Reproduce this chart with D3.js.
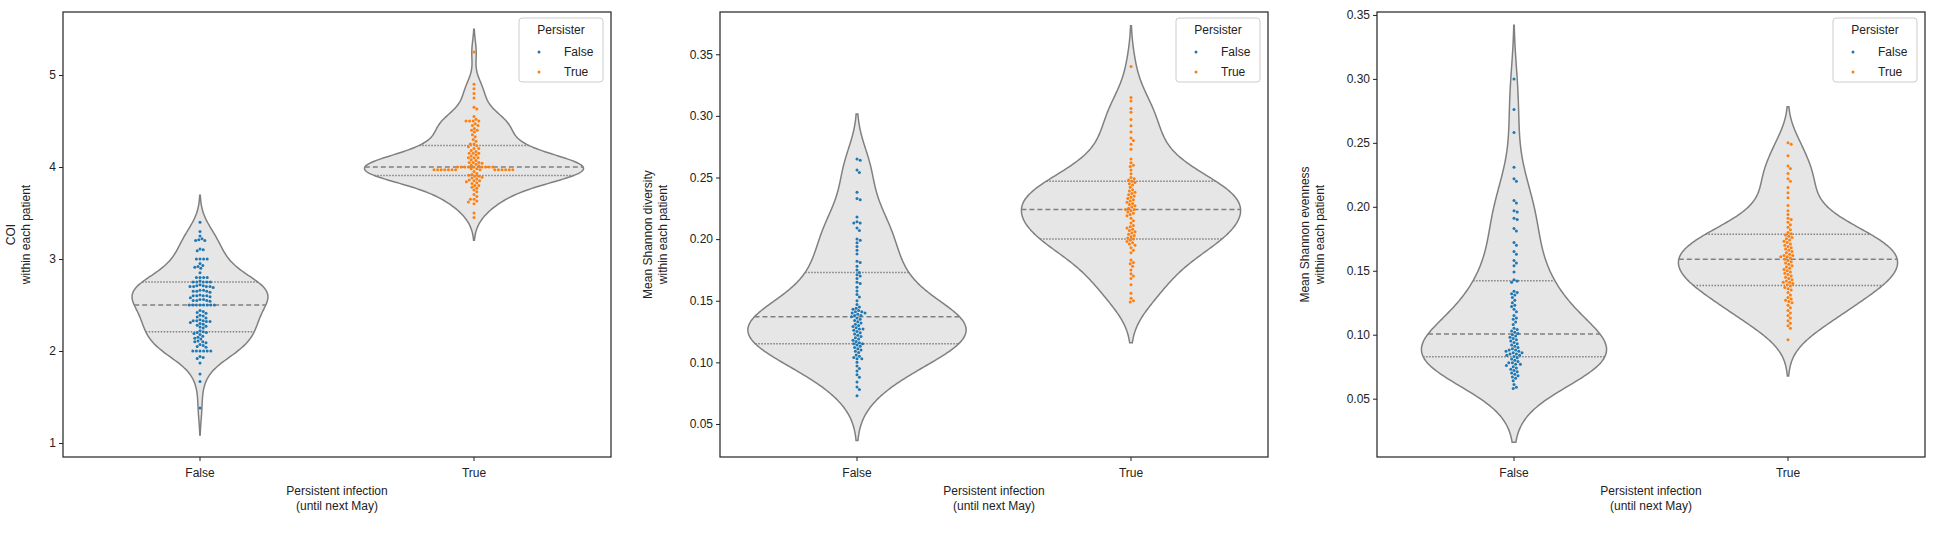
<!DOCTYPE html>
<html>
<head>
<meta charset="utf-8">
<script src="https://cdn.jsdelivr.net/npm/d3@7"></script>
<style>
  body { margin: 0; background: #fff; }
  text { font-family: "Liberation Sans", Arial, sans-serif; }
</style>
</head>
<body>
<svg id="chart" width="1933" height="543"></svg>
<script>
const categories = ["False", "True"];

const coiFalse = [3.40,3.30,3.25,3.21,3.20,3.20,3.22,3.11,3.09,3.10,3.00,3.00,3.00,3.00,2.95,2.92,2.91,2.93,2.90,2.85,2.80,2.80,2.80,2.80,2.76,2.75,2.75,2.75,2.75,2.75,2.71,2.70,2.70,2.70,2.69,2.70,2.71,2.72,2.66,2.65,2.65,2.64,2.66,2.65,2.60,2.60,2.61,2.59,2.60,2.58,2.60,2.56,2.55,2.55,2.54,2.56,2.55,2.50,2.50,2.50,2.50,2.50,2.50,2.50,2.50,2.44,2.42,2.43,2.41,2.38,2.37,2.39,2.36,2.33,2.33,2.32,2.31,2.32,2.34,2.33,2.30,2.28,2.27,2.26,2.29,2.25,2.20,2.20,2.21,2.19,2.18,2.22,2.15,2.14,2.16,2.13,2.10,2.10,2.09,2.11,2.07,2.05,2.06,2.04,2.00,2.00,2.00,2.00,2.00,2.00,1.94,1.92,1.93,1.87,1.75,1.67,1.38];
const coiTrue = [5.25,4.90,4.85,4.80,4.75,4.65,4.63,4.55,4.52,4.50,4.50,4.50,4.50,4.47,4.45,4.45,4.42,4.40,4.40,4.38,4.35,4.33,4.30,4.28,4.25,4.25,4.23,4.22,4.20,4.20,4.18,4.17,4.15,4.15,4.15,4.13,4.12,4.10,4.10,4.10,4.08,4.07,4.05,4.05,4.05,4.04,4.03,4.02,4.01,4.00,4.00,4.00,4.00,4.00,4.00,4.00,4.00,4.00,3.98,3.98,3.97,3.97,3.97,3.97,3.97,3.97,3.97,3.97,3.97,3.97,3.97,3.97,3.97,3.97,3.95,3.93,3.92,3.91,3.90,3.90,3.89,3.88,3.87,3.86,3.85,3.85,3.84,3.83,3.82,3.80,3.80,3.78,3.77,3.75,3.73,3.70,3.68,3.65,3.65,3.63,3.62,3.60,3.50,3.45];

const divFalse = [0.265,0.264,0.256,0.254,0.238,0.233,0.232,0.218,0.214,0.213,0.213,0.209,0.207,0.200,0.199,0.197,0.194,0.191,0.188,0.182,0.181,0.178,0.175,0.173,0.171,0.170,0.168,0.165,0.164,0.161,0.158,0.155,0.153,0.150,0.147,0.145,0.144,0.143,0.142,0.141,0.141,0.140,0.140,0.139,0.138,0.138,0.137,0.136,0.135,0.134,0.133,0.132,0.131,0.130,0.129,0.128,0.127,0.127,0.126,0.125,0.124,0.123,0.122,0.121,0.120,0.119,0.118,0.117,0.116,0.115,0.115,0.114,0.113,0.112,0.111,0.110,0.109,0.108,0.106,0.105,0.104,0.103,0.103,0.100,0.097,0.095,0.093,0.090,0.088,0.084,0.080,0.078,0.073];
const divTrue = [0.340,0.315,0.312,0.306,0.303,0.297,0.292,0.287,0.282,0.280,0.277,0.273,0.265,0.262,0.260,0.259,0.256,0.253,0.250,0.249,0.248,0.247,0.246,0.245,0.244,0.242,0.240,0.239,0.238,0.237,0.236,0.235,0.234,0.233,0.232,0.231,0.230,0.229,0.228,0.227,0.226,0.225,0.224,0.224,0.223,0.222,0.221,0.220,0.219,0.217,0.215,0.213,0.211,0.210,0.209,0.208,0.207,0.206,0.205,0.204,0.203,0.202,0.201,0.200,0.199,0.198,0.197,0.196,0.195,0.193,0.191,0.189,0.183,0.181,0.180,0.178,0.175,0.172,0.170,0.168,0.163,0.156,0.152,0.150,0.149];

const evenFalse = [0.300,0.276,0.258,0.231,0.222,0.220,0.205,0.203,0.197,0.196,0.191,0.190,0.183,0.181,0.172,0.170,0.165,0.163,0.158,0.156,0.154,0.149,0.143,0.142,0.141,0.134,0.133,0.132,0.131,0.129,0.127,0.125,0.123,0.122,0.120,0.118,0.115,0.113,0.112,0.110,0.108,0.105,0.104,0.103,0.102,0.101,0.100,0.099,0.098,0.097,0.096,0.095,0.094,0.093,0.092,0.091,0.090,0.089,0.088,0.088,0.087,0.087,0.086,0.086,0.085,0.085,0.084,0.084,0.083,0.082,0.081,0.080,0.079,0.078,0.078,0.077,0.077,0.076,0.075,0.074,0.073,0.072,0.071,0.070,0.069,0.068,0.067,0.066,0.064,0.061,0.059,0.058];
const evenTrue = [0.250,0.249,0.240,0.232,0.230,0.226,0.222,0.220,0.215,0.211,0.207,0.201,0.197,0.194,0.191,0.190,0.188,0.186,0.184,0.182,0.180,0.179,0.178,0.177,0.176,0.175,0.174,0.173,0.172,0.171,0.170,0.169,0.168,0.167,0.166,0.165,0.164,0.163,0.162,0.162,0.161,0.161,0.160,0.159,0.158,0.157,0.156,0.155,0.154,0.153,0.152,0.151,0.150,0.149,0.148,0.147,0.146,0.145,0.144,0.143,0.142,0.141,0.141,0.140,0.139,0.138,0.137,0.136,0.135,0.133,0.131,0.129,0.128,0.127,0.126,0.125,0.123,0.121,0.119,0.117,0.115,0.113,0.111,0.109,0.107,0.105,0.096];

const coiTicks = [1, 2, 3, 4, 5];
const divTicks = [0.05, 0.10, 0.15, 0.20, 0.25, 0.30, 0.35];
const evenTicks = [0.05, 0.10, 0.15, 0.20, 0.25, 0.30, 0.35];

const panels = [
  { left: 63,   groups: [coiFalse, coiTrue],   domain: [0.848, 5.685], ticks: coiTicks,  fmt: d3.format("d"),   label: ["COI", "within each patient"], labelOff: 48 },
  { left: 720,  groups: [divFalse, divTrue],   domain: [0.0232, 0.3843], ticks: divTicks, fmt: d3.format(".2f"), label: ["Mean Shannon diversity", "within each patient"], labelOff: 68 },
  { left: 1377, groups: [evenFalse, evenTrue], domain: [0.0044, 0.3523], ticks: evenTicks, fmt: d3.format(".2f"), label: ["Mean Shannon evenness", "within each patient"], labelOff: 68 }
];

const colors = ["#1f77b4", "#ff7f0e"];
const W = 548, plotTop = 12, plotBottom = 457;
const svg = d3.select("#chart");

function density(data, bw, v) {
  const k = 1 / (bw * Math.sqrt(2 * Math.PI));
  return d3.mean(data, t => k * Math.exp(-0.5 * ((v - t) / bw) ** 2));
}

function swarm(ys, d) {
  const placed = [];
  return ys.map(y => {
    const near = placed.filter(p => Math.abs(p[1] - y) < d);
    let off = 0;
    for (let i = 0; i < 400; i++) {
      const c = (i % 2 ? 1 : -1) * Math.ceil(i / 2) * 0.4;
      if (near.every(p => (p[0] - c) ** 2 + (p[1] - y) ** 2 >= d * d)) { off = c; break; }
    }
    placed.push([off, y]);
    return [off, y];
  });
}

panels.forEach(p => {
  const g = svg.append("g").attr("transform", `translate(${p.left},0)`);
  const x = d3.scaleBand().domain(categories).range([0, W]);
  const y = d3.scaleLinear().domain(p.domain).range([plotBottom, plotTop]);
  const cx = c => x(c) + x.bandwidth() / 2;

  const bws = p.groups.map(data => d3.deviation(data) * Math.pow(data.length, -0.2));
  const dens = p.groups.map((data, i) => {
    const bw = bws[i];
    const lo = d3.min(data) - 2 * bw, hi = d3.max(data) + 2 * bw;
    return d3.range(0, 201).map(j => {
      const v = lo + (hi - lo) * j / 200;
      return [v, density(data, bw, v)];
    });
  });
  const maxD = d3.max(dens, ds => d3.max(ds, e => e[1]));
  const wScale = d3.scaleLinear().domain([0, maxD]).range([0, x.bandwidth() * 0.4]);

  p.groups.forEach((data, i) => {
    const c = cx(categories[i]);
    const area = d3.area().curve(d3.curveBasis)
      .y(e => y(e[0])).x0(e => c - wScale(e[1])).x1(e => c + wScale(e[1]));
    g.append("path").datum(dens[i]).attr("d", area)
      .attr("fill", "#e6e6e6").attr("stroke", "#808080").attr("stroke-width", 1.5);

    const sorted = data.slice().sort(d3.ascending);
    [0.25, 0.5, 0.75].forEach(q => {
      const v = d3.quantile(sorted, q);
      const hw = wScale(density(data, bws[i], v));
      g.append("line")
        .attr("x1", c - hw).attr("x2", c + hw)
        .attr("y1", y(v)).attr("y2", y(v))
        .attr("stroke", "#808080").attr("stroke-width", 1.5)
        .attr("stroke-dasharray", q === 0.5 ? "5,3" : "1.5,1.5");
    });

    const pts = swarm(sorted.map(v => y(v)).reverse(), 3.3);
    g.selectAll(null).data(pts).enter().append("circle")
      .attr("cx", e => c + e[0]).attr("cy", e => e[1]).attr("r", 1.5)
      .attr("fill", colors[i]);
  });

  g.append("rect").attr("x", 0).attr("y", plotTop).attr("width", W).attr("height", plotBottom - plotTop)
    .attr("fill", "none").attr("stroke", "#222").attr("stroke-width", 1.2);

  const xa = g.append("g").attr("transform", `translate(0,${plotBottom})`)
    .call(d3.axisBottom(x).tickSize(4).tickSizeOuter(0));
  xa.select(".domain").remove();
  xa.selectAll("text").attr("font-size", 12).attr("fill", "#222").attr("dy", "1.1em");
  xa.selectAll("line").attr("stroke", "#222");

  const ya = g.append("g").call(d3.axisLeft(y).tickValues(p.ticks).tickFormat(p.fmt).tickSize(4));
  ya.select(".domain").remove();
  ya.selectAll("text").attr("font-size", 12).attr("fill", "#222");
  ya.selectAll("line").attr("stroke", "#222");

  const xl = g.append("text").attr("text-anchor", "middle").attr("font-size", 12).attr("fill", "#222");
  xl.append("tspan").attr("x", W / 2).attr("y", 495).text("Persistent infection");
  xl.append("tspan").attr("x", W / 2).attr("y", 510).text("(until next May)");

  const yl = g.append("text").attr("text-anchor", "middle").attr("font-size", 12).attr("fill", "#222")
    .attr("transform", `translate(${-p.labelOff},${(plotTop + plotBottom) / 2}) rotate(-90)`);
  yl.append("tspan").attr("x", 0).attr("y", 0).text(p.label[0]);
  yl.append("tspan").attr("x", 0).attr("y", 15).text(p.label[1]);

  const lg = g.append("g").attr("transform", `translate(${W - 92},18)`);
  lg.append("rect").attr("width", 84).attr("height", 64).attr("rx", 3)
    .attr("fill", "#fff").attr("fill-opacity", 0.8).attr("stroke", "#ccc");
  lg.append("text").attr("x", 42).attr("y", 16).attr("text-anchor", "middle")
    .attr("font-size", 12).attr("fill", "#222").text("Persister");
  categories.forEach((c, i) => {
    lg.append("circle").attr("cx", 20).attr("cy", 34 + i * 20).attr("r", 1.5).attr("fill", colors[i]);
    lg.append("text").attr("x", 45).attr("y", 38 + i * 20).attr("font-size", 12).attr("fill", "#222").text(c);
  });
});
</script>
</body>
</html>
